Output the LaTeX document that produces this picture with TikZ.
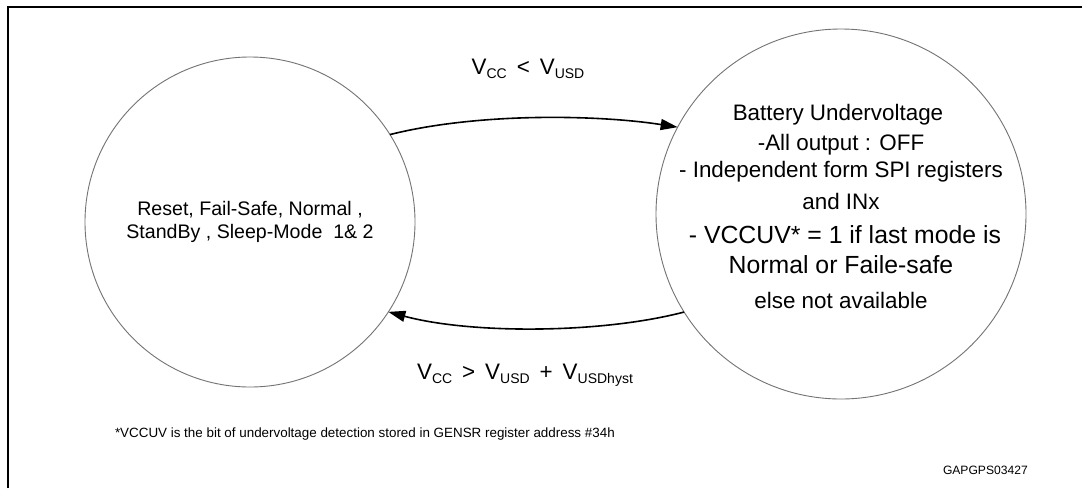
\documentclass[tikz,border=0pt]{standalone}
\usepackage{fontspec}
\setmainfont{Liberation Sans}
\usetikzlibrary{arrows.meta}
\newcommand\sbs[1]{\raisebox{-4pt}{\fontsize{14}{15}\selectfont #1}}
\tikzset{
  statecircle/.style={circle, draw=black!55, line width=0.9pt, inner sep=0pt, outer sep=0pt},
  arr/.style={line width=1.6pt, -{Triangle[length=17pt,width=11pt]}},
  txt/.style={inner sep=0pt, outer sep=0pt, anchor=base, align=center},
  bigtxt/.style={txt, font=\fontsize{22.4}{26}\selectfont},
  hugetxt/.style={txt, font=\fontsize{24.8}{28}\selectfont},
  lefttxt/.style={txt, font=\fontsize{19.6}{24}\selectfont},
  frame/.style={line width=2pt, black}
}
\begin{document}
\begin{tikzpicture}[x=1pt, y=-1pt]
\useasboundingbox (0,0) rectangle (1082,488);
\fill[white] (0,0) rectangle (1082,488);
% frame
\coordinate (fl) at (7.5,488);
\coordinate (fc) at (7.5,7);
\coordinate (fr) at (1082,7);
\draw[frame] (fl) -- (fc) -- (fr);
% circles
\node[statecircle, minimum size=330pt] (L) at (250,222) {};
\node[statecircle, minimum size=370pt] (R) at (841,214) {};
% left text
\node[lefttxt] (l1) at (250,215) {Reset, Fail-Safe, Normal ,};
\node[lefttxt] (l2) at (250,238) {StandBy , Sleep-Mode \ 1\& 2};
% right text
\node[bigtxt] (r1) at (838,120.7) {Battery Undervoltage};
\node[bigtxt] (r2) at (841,150.5) {-All output : OFF};
\node[bigtxt] (r3) at (841,177) {- Independent form SPI registers};
\node[bigtxt] (r4) at (841,209) {and INx};
\node[hugetxt] (r5) at (845,243.7) {- VCCUV* = 1 if last mode is};
\node[hugetxt] (r6) at (841,273.6) {Normal or Faile-safe};
\node[bigtxt] (r7) at (841,308.8) {else not available};
% connectors
\draw[arr] (L.32.7) .. controls (480,112) and (600,115) .. (R.152.6);
\draw[arr] (R.212.2) .. controls (600,334) and (470,334) .. (L.-33.4);
% labels
\node[bigtxt] (t1) at (528,74) {V\sbs{CC} \,<\, V\sbs{USD}};
\node[bigtxt] (t2) at (525,379) {V\sbs{CC} \,>\, V\sbs{USD} \,+\, V\sbs{USDhyst}};
% footnote
\node[txt, anchor=base west, font=\fontsize{13.4}{16}\selectfont] (fn) at (115,437) {*VCCUV is the bit of undervoltage detection stored in GENSR register address \#34h};
\node[txt, anchor=base west, font=\fontsize{12.1}{14}\selectfont] (id) at (943,474) {GAPGPS03427};
\end{tikzpicture}
\end{document}
